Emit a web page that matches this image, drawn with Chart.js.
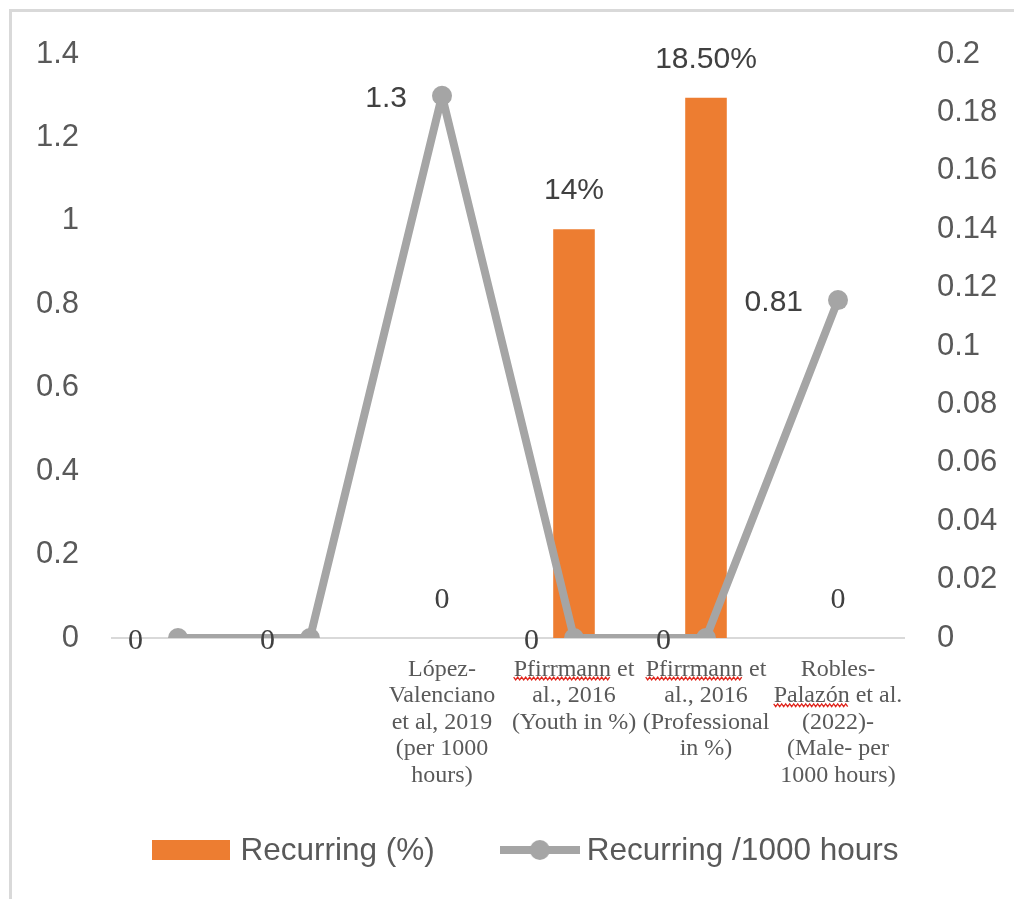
<!DOCTYPE html>
<html>
<head>
<meta charset="utf-8">
<title>Recurring injuries</title>
<script src="https://cdn.jsdelivr.net/npm/chart.js@4.4.1/dist/chart.umd.min.js"></script>
<style>
	html, body { margin: 0; padding: 0; background: #fff; }
	#frame {
		position: absolute;
		left: 9px;
		top: 9px;
		width: 1002px;
		height: 887px;
		border-top: 3px solid #d9d9d9;
		border-left: 3px solid #d9d9d9;
	}
	canvas { display: block; }
</style>
</head>
<body>
<div id="frame"><canvas id="recurringChart" width="1002" height="887"></canvas></div>
<script>
// Study labels (wrapped by hand, first two studies have no caption)
const studies = [
	"",
	"",
	["López-", "Valenciano", "et al, 2019", "(per 1000", "hours)"],
	["Pfirrmann et", "al., 2016", "(Youth in %)"],
	["Pfirrmann et", "al., 2016", "(Professional", "in %)"],
	["Robles-", "Palazón et al.", "(2022)-", "(Male- per", "1000 hours)"],
];

// Recurring injuries as a share (right axis)
const recurringPct = [null, null, 0, 0.14, 0.185, 0];
const recurringPctText = [null, null, "0", "14%", "18.50%", "0"];

// Recurring injuries per 1000 hours (left axis)
const recurringPer1000 = [0, 0, 1.3, 0, 0, 0.81];

// Axis ranges
const leftAxis = { min: 0, max: 1.4, step: 0.2 };
const rightAxis = { min: 0, max: 0.2, step: 0.02 };

// Words the editor flagged with a squiggle
const flaggedWords = ["Pfirrmann", "Palazón"];

const ORANGE = "#ED7D31";
const GRAY = "#A5A5A5";
const TICK_TEXT = "#595959";
const LABEL_TEXT = "#404040";
const AXIS_LINE = "#D9D9D9";
const SANS = "'Liberation Sans', Arial, sans-serif";
const SERIF = "'Liberation Serif', 'Times New Roman', serif";

const makeSwatch = (w, h, paint) => {
	const c = document.createElement("canvas");
	c.width = w;
	c.height = h;
	paint(c.getContext("2d"), w, h);
	return c;
};

const barSwatch = makeSwatch(78, 20, (g, w, h) => {
	g.fillStyle = ORANGE;
	g.fillRect(0, 0, w, h);
});

const lineSwatch = makeSwatch(80, 22, (g, w, h) => {
	g.strokeStyle = GRAY;
	g.lineWidth = 8;
	g.beginPath();
	g.moveTo(0, h / 2);
	g.lineTo(w, h / 2);
	g.stroke();
	g.fillStyle = GRAY;
	g.beginPath();
	g.arc(w / 2, h / 2, 10, 0, Math.PI * 2);
	g.fill();
});

const labelFont = (text) =>
	text === "0" ? `30px ${SERIF}` : `30px ${SANS}`;

// Value labels: above the bars, left of the line points
const valueLabels = {
	id: "valueLabels",
	afterDatasetsDraw(chart) {
		const { ctx } = chart;
		ctx.save();
		ctx.fillStyle = LABEL_TEXT;
		ctx.textBaseline = "middle";

		chart.getDatasetMeta(0).data.forEach((bar, i) => {
			const text = recurringPctText[i];
			if (text == null) return;
			ctx.font = labelFont(text);
			ctx.textAlign = "center";
			ctx.fillText(text, bar.x, bar.y - 38);
		});

		chart.getDatasetMeta(1).data.forEach((pt, i) => {
			const text = String(recurringPer1000[i]);
			ctx.font = labelFont(text);
			ctx.textAlign = "right";
			ctx.fillText(text, pt.x - 35, pt.y + 3);
		});
		ctx.restore();
	},
};

// Red wavy underline under flagged words in the category labels
const spellMarks = {
	id: "spellMarks",
	afterDraw(chart) {
		const scale = chart.scales.x;
		const { ctx } = chart;
		ctx.save();
		ctx.strokeStyle = "#E0241B";
		ctx.lineWidth = 1.3;
		scale.getLabelItems().forEach((item) => {
			const lines = [].concat(item.label);
			const [tx, ty] = item.options.translation;
			ctx.font = item.font.string;
			ctx.textBaseline = item.options.textBaseline;
			lines.forEach((line, j) => {
				flaggedWords.forEach((word) => {
					const at = line.indexOf(word);
					if (at < 0) return;
					const lineW = ctx.measureText(line).width;
					const x0 = tx - lineW / 2 + ctx.measureText(line.slice(0, at)).width;
					const wordM = ctx.measureText(word);
					const x1 = x0 + wordM.width;
					const y =
						ty + item.textOffset + j * item.font.lineHeight +
						wordM.actualBoundingBoxDescent + 3;
					ctx.beginPath();
					for (let x = x0, k = 0; x <= x1; x += 2, k++) {
						const yy = y + (k % 2 ? 1.4 : -1.4);
						if (k === 0) ctx.moveTo(x, yy);
						else ctx.lineTo(x, yy);
					}
					ctx.stroke();
				});
			});
		});
		ctx.restore();
	},
};

// Legend row under the axis labels: swatch, text, swatch, text
const legendRow = {
	id: "legendRow",
	afterDraw(chart) {
		const { ctx } = chart;
		const swatches = [barSwatch, lineSwatch];
		const gaps = [11, 7];
		const spacing = 65;
		ctx.save();
		ctx.font = `31.5px ${SANS}`;
		ctx.fillStyle = TICK_TEXT;
		ctx.textAlign = "left";
		ctx.textBaseline = "middle";
		const entries = chart.data.datasets.map((ds, i) => ({
			text: ds.label,
			swatch: swatches[i],
			gap: gaps[i],
			width: swatches[i].width + gaps[i] + ctx.measureText(ds.label).width,
		}));
		const total =
			entries.reduce((sum, e) => sum + e.width, 0) +
			spacing * (entries.length - 1);
		const y = chart.height - 49;
		let x = (chart.width + 24) / 2 - total / 2;
		entries.forEach((e) => {
			ctx.drawImage(e.swatch, x, y - e.swatch.height / 2);
			ctx.fillText(e.text, x + e.swatch.width + e.gap, y + 1);
			x += e.width + spacing;
		});
		ctx.restore();
	},
};

const tickNumber = (value) => `${Number(value.toFixed(2))}`;

// Tight line height keeps the tick labels from pushing the plot area down
const valueTickFont = { family: SANS, size: 31, lineHeight: 0.5 };

new Chart(document.getElementById("recurringChart"), {
	type: "bar",
	data: {
		labels: studies,
		datasets: [
			{
				label: "Recurring (%)",
				data: recurringPct,
				yAxisID: "y1",
				backgroundColor: ORANGE,
				borderWidth: 0,
				categoryPercentage: 1,
				barPercentage: 0.315,
				order: 1,
			},
			{
				type: "line",
				label: "Recurring /1000 hours",
				data: recurringPer1000,
				yAxisID: "y",
				borderColor: GRAY,
				backgroundColor: GRAY,
				borderWidth: 8,
				borderJoinStyle: "round",
				borderCapStyle: "round",
				pointRadius: 10,
				pointBorderWidth: 0,
				pointBackgroundColor: GRAY,
				tension: 0,
				order: 0,
			},
		],
	},
	options: {
		responsive: false,
		devicePixelRatio: 1,
		animation: false,
		events: [],
		layout: {
			padding: { top: 42, left: 24, right: 0, bottom: 97 },
		},
		scales: {
			x: {
				grid: { display: false, drawTicks: false },
				border: { color: AXIS_LINE, width: 2 },
				ticks: {
					color: TICK_TEXT,
					font: { family: SERIF, size: 24, lineHeight: "26.6px" },
					padding: 18,
					maxRotation: 0,
					autoSkip: false,
				},
				afterFit: (scale) => {
					scale.height = 164;
				},
			},
			y: {
				position: "left",
				min: leftAxis.min,
				max: leftAxis.max,
				grid: { display: false, drawTicks: false },
				border: { display: false },
				ticks: {
					stepSize: leftAxis.step,
					color: TICK_TEXT,
					font: valueTickFont,
					padding: 33,
					callback: tickNumber,
				},
				afterFit: (scale) => {
					scale.width = 76;
				},
			},
			y1: {
				position: "right",
				min: rightAxis.min,
				max: rightAxis.max,
				grid: { display: false, drawTicks: false },
				border: { display: false },
				ticks: {
					stepSize: rightAxis.step,
					color: TICK_TEXT,
					font: valueTickFont,
					padding: 33,
					callback: tickNumber,
				},
				afterFit: (scale) => {
					scale.width = 110;
				},
			},
		},
		plugins: {
			tooltip: { enabled: false },
			legend: { display: false },
		},
	},
	plugins: [valueLabels, spellMarks, legendRow],
});
</script>
</body>
</html>
